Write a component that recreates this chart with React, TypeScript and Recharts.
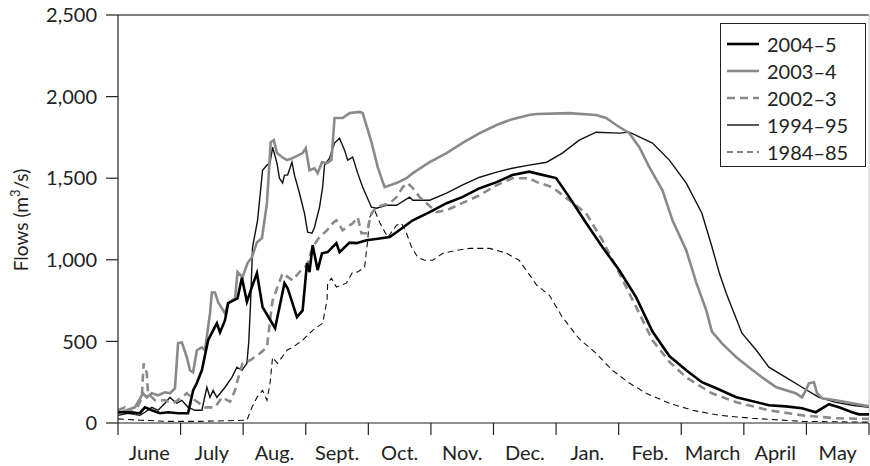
import React from "react";
import {
  LineChart,
  Line,
  XAxis,
  YAxis,
  ReferenceLine,
} from "recharts";

// x = months since 1 June (0..12), y = flow in m3/s
const MONTHS = ["June", "July", "Aug.", "Sept.", "Oct.", "Nov.", "Dec.", "Jan.", "Feb.", "March", "April", "May"];
const MONTH_TICKS = [0, 1, 2, 3, 4, 5, 6, 7, 8, 9, 10, 11, 12];
const FLOW_TICKS = [0, 500, 1000, 1500, 2000, 2500];

const flows2004_5 = [
  [0, 66], [0.16, 66], [0.35, 60], [0.43, 96], [0.54, 78], [0.67, 60], [0.8, 66], [0.96, 60],
  [1.12, 60], [1.2, 200], [1.26, 245], [1.34, 323], [1.44, 507], [1.52, 568], [1.58, 611], [1.63, 555],
  [1.71, 630], [1.76, 734], [1.91, 764], [1.98, 890], [2.06, 743], [2.15, 845], [2.22, 918], [2.31, 710],
  [2.51, 581], [2.66, 857], [2.71, 826], [2.86, 649], [2.95, 690], [3.02, 980], [3.06, 925], [3.11, 1090],
  [3.19, 937], [3.26, 1040], [3.35, 1047], [3.49, 1102], [3.54, 1047], [3.7, 1105], [3.81, 1102], [3.97, 1120],
  [4.18, 1130], [4.34, 1140], [4.45, 1169], [4.71, 1242], [4.98, 1292], [5.25, 1347], [5.5, 1384], [5.78, 1439],
  [6.05, 1476], [6.3, 1519], [6.57, 1540], [6.73, 1525], [7.0, 1501], [7.21, 1384], [7.48, 1225], [7.74, 1078],
  [8.01, 936], [8.28, 770], [8.54, 560], [8.81, 410], [9.08, 323], [9.33, 250], [9.56, 213], [9.88, 158],
  [10.4, 109], [10.67, 102], [10.93, 90], [11.15, 66], [11.36, 115], [11.52, 96], [11.73, 66], [11.84, 53], [12, 53],
];

const flows2003_4 = [
  [0, 60], [0.27, 96], [0.4, 182], [0.46, 157], [0.54, 182], [0.64, 170], [0.75, 188], [0.83, 182],
  [0.91, 212], [0.96, 490], [1.02, 494], [1.1, 403], [1.15, 323], [1.2, 311], [1.26, 446], [1.34, 464],
  [1.39, 446], [1.47, 672], [1.5, 800], [1.55, 800], [1.6, 740], [1.71, 672], [1.76, 734], [1.87, 764],
  [1.91, 925], [1.99, 893], [2.07, 980], [2.14, 1015], [2.22, 1108], [2.3, 1132], [2.38, 1347], [2.44, 1721],
  [2.49, 1733], [2.54, 1654], [2.62, 1630], [2.7, 1611], [2.79, 1623], [2.95, 1654], [3.0, 1684], [3.06, 1549],
  [3.14, 1561], [3.19, 1531], [3.26, 1598], [3.34, 1592], [3.41, 1611], [3.46, 1869], [3.59, 1869], [3.7, 1899],
  [3.86, 1906], [3.91, 1899], [4.05, 1721], [4.15, 1568], [4.26, 1445], [4.45, 1470], [4.61, 1500], [4.71, 1531],
  [4.98, 1598], [5.25, 1654], [5.5, 1715], [5.78, 1776], [6.05, 1826], [6.3, 1862], [6.57, 1887], [6.69, 1893],
  [7.21, 1899], [7.64, 1887], [7.8, 1869], [7.96, 1826], [8.17, 1776], [8.33, 1690], [8.49, 1568], [8.7, 1426],
  [8.86, 1242], [9.08, 1058], [9.24, 860], [9.4, 690], [9.49, 560], [9.61, 506], [9.65, 488], [9.88, 403],
  [10.08, 342], [10.29, 280], [10.52, 219], [10.83, 182], [10.93, 157], [10.99, 200], [11.04, 243], [11.12, 250],
  [11.17, 182], [11.25, 152], [11.47, 139], [11.73, 121], [12, 102],
];

const flows2002_3 = [
  [0, 78], [0.11, 96], [0.27, 60], [0.38, 157], [0.41, 366], [0.46, 305], [0.48, 182], [0.59, 139],
  [0.75, 139], [0.88, 121], [1.02, 157], [1.1, 182], [1.23, 139], [1.39, 96], [1.55, 96], [1.66, 157],
  [1.79, 130], [1.87, 200], [1.91, 261], [1.99, 366], [2.11, 384], [2.27, 427], [2.38, 464], [2.43, 630],
  [2.47, 751], [2.63, 917], [2.79, 874], [2.9, 925], [3.02, 967], [3.11, 1078], [3.22, 1140], [3.34, 1181],
  [3.43, 1224], [3.49, 1242], [3.59, 1181], [3.75, 1224], [3.83, 1261], [3.89, 1163], [3.97, 1163], [4.05, 1285],
  [4.13, 1322], [4.23, 1334], [4.34, 1347], [4.45, 1384], [4.55, 1445], [4.63, 1470], [4.71, 1439], [4.82, 1384],
  [4.93, 1347], [5.09, 1292], [5.25, 1304], [5.5, 1347], [5.78, 1396], [6.05, 1457], [6.3, 1500], [6.57, 1500],
  [6.69, 1476], [6.94, 1445], [7.21, 1365], [7.48, 1285], [7.74, 1120], [8.01, 917], [8.28, 710], [8.54, 507],
  [8.81, 375], [9.08, 280], [9.33, 219], [9.49, 182], [9.88, 127], [10.4, 78], [10.93, 47], [11.47, 29], [12, 25],
];

const flows1994_95 = [
  [0, 47], [0.16, 60], [0.35, 47], [0.43, 66], [0.54, 96], [0.64, 78], [0.75, 121], [0.83, 157],
  [0.88, 139], [0.94, 121], [1.02, 139], [1.12, 96], [1.23, 78], [1.34, 78], [1.42, 219], [1.47, 157],
  [1.52, 200], [1.58, 157], [1.71, 219], [1.82, 280], [1.9, 342], [1.98, 323], [2.06, 366], [2.09, 500],
  [2.12, 750], [2.15, 1078], [2.23, 1242], [2.31, 1549], [2.38, 1580], [2.43, 1592], [2.47, 1690], [2.54, 1592],
  [2.58, 1500], [2.63, 1470], [2.66, 1519], [2.71, 1519], [2.78, 1598], [2.82, 1519], [2.9, 1408], [2.98, 1285],
  [3.03, 1169], [3.1, 1163], [3.14, 1200], [3.22, 1322], [3.27, 1445], [3.3, 1580], [3.38, 1623], [3.46, 1715],
  [3.54, 1745], [3.62, 1672], [3.67, 1611], [3.75, 1629], [3.83, 1531], [3.91, 1445], [4.05, 1322], [4.13, 1316],
  [4.29, 1334], [4.45, 1334], [4.66, 1384], [4.71, 1365], [4.98, 1365], [5.25, 1408], [5.5, 1457], [5.78, 1506],
  [6.05, 1537], [6.3, 1561], [6.57, 1580], [6.85, 1598], [7.1, 1654], [7.37, 1733], [7.64, 1782], [8.01, 1776],
  [8.17, 1782], [8.54, 1715], [8.81, 1611], [9.08, 1470], [9.33, 1285], [9.49, 1080], [9.61, 917], [9.72, 794],
  [9.97, 550], [10.2, 446], [10.4, 342], [10.67, 280], [10.93, 219], [11.2, 157], [11.47, 126], [11.73, 109], [12, 96],
];

const flows1984_85 = [
  [0, 25], [0.35, 17], [0.78, 10], [1.31, 10], [2.06, 17], [2.14, 96], [2.22, 157], [2.31, 200],
  [2.38, 139], [2.43, 245], [2.47, 403], [2.55, 366], [2.7, 446], [2.79, 464], [2.95, 507], [3.11, 568],
  [3.27, 611], [3.34, 751], [3.35, 857], [3.41, 887], [3.49, 833], [3.65, 857], [3.75, 925], [3.83, 925],
  [3.94, 955], [3.99, 1120], [4.02, 1261], [4.1, 1304], [4.18, 1230], [4.31, 1138], [4.45, 1212], [4.53, 1224],
  [4.61, 1163], [4.69, 1078], [4.79, 1015], [4.9, 997], [5.03, 997], [5.19, 1040], [5.41, 1058], [5.62, 1070],
  [5.94, 1070], [6.21, 1040], [6.41, 997], [6.69, 845], [6.89, 784], [7.1, 649], [7.37, 515], [7.64, 427],
  [7.9, 323], [8.17, 245], [8.44, 182], [8.81, 121], [9.18, 78], [9.61, 47], [10.13, 29], [10.93, 10], [12, 5],
];

const toRows = (pairs: number[][]) => pairs.map(([m, v]) => ({ m, v }));

const SERIES = [
  { name: "2004\u20135", data: toRows(flows2004_5), color: "#000", width: 2.6, dash: undefined },
  { name: "2003\u20134", data: toRows(flows2003_4), color: "#8a8a8a", width: 2.6, dash: undefined },
  { name: "2002\u20133", data: toRows(flows2002_3), color: "#8a8a8a", width: 2.6, dash: "8 5" },
  { name: "1994\u201395", data: toRows(flows1994_95), color: "#111", width: 1.4, dash: undefined },
  { name: "1984\u201385", data: toRows(flows1984_85), color: "#111", width: 1.1, dash: "6 4" },
];

const W = 870;
const H = 466;
const LEFT = 118;
const FONT = "Lato, 'Open Sans', sans-serif";
const textColor = "#222";

function MonthTick(props: any) {
  const { x, y, payload } = props;
  if (payload.value >= 12) return null;
  const half = (W - LEFT) / 24;
  return (
    <text x={x + half} y={y} dy={19} textAnchor="middle" fontSize={20} fill={textColor} fontFamily={FONT}>
      {MONTHS[payload.value]}
    </text>
  );
}

function Legend() {
  return (
    <div
      style={{
        position: "absolute",
        left: 720,
        top: 23,
        width: 146,
        height: 144,
        border: "1px solid #222",
        background: "#fff",
        fontFamily: FONT,
        fontSize: 20,
        color: textColor,
        paddingTop: 6,
        boxSizing: "border-box",
      }}
    >
      {SERIES.map((s) => (
        <div key={s.name} style={{ display: "flex", alignItems: "center", height: 27 }}>
          <svg width={46} height={10}>
            <line
              x1={6}
              x2={38}
              y1={5}
              y2={5}
              stroke={s.color}
              strokeWidth={s.width}
              strokeDasharray={s.dash}
            />
          </svg>
          <span>{s.name}</span>
        </div>
      ))}
    </div>
  );
}

export default function App() {
  return (
    <div style={{ position: "absolute", left: 0, top: 0, width: W, height: H, background: "#fff" }}>
      <LineChart width={W} height={H} margin={{ top: 15, right: 1, bottom: 0, left: 0 }}>
        <XAxis
          dataKey="m"
          type="number"
          domain={[0, 12]}
          ticks={MONTH_TICKS}
          height={43}
          tickSize={12}
          tickMargin={6}
          tick={<MonthTick />}
          axisLine={{ stroke: "#222", strokeWidth: 1.2 }}
          tickLine={{ stroke: "#222", strokeWidth: 1.2 }}
          allowDuplicatedCategory={false}
        />
        <YAxis
          type="number"
          domain={[0, 2500]}
          ticks={FLOW_TICKS}
          width={LEFT}
          tickSize={12}
          tickMargin={9}
          tickFormatter={(v: number) => v.toLocaleString("en-US")}
          tick={{ fill: textColor, fontSize: 20, fontFamily: FONT }}
          axisLine={{ stroke: "#222", strokeWidth: 1.2 }}
          tickLine={{ stroke: "#222", strokeWidth: 1.2 }}
          label={() => (
            <text
              transform={`translate(28, 220) rotate(-90)`}
              textAnchor="middle"
              fontSize={19}
              fill={textColor}
              fontFamily={FONT}
            >
              Flows (m<tspan dy={-8} fontSize={13}>3</tspan>
              <tspan dy={8}>/s)</tspan>
            </text>
          )}
        />
        <ReferenceLine y={2500} stroke="#555" strokeWidth={1.5} />
        <ReferenceLine x={12} stroke="#c8c8c8" strokeWidth={1} />
        {SERIES.slice()
          .reverse()
          .map((s) => (
            <Line
              key={s.name}
              data={s.data}
              dataKey="v"
              name={s.name}
              type="linear"
              stroke={s.color}
              strokeWidth={s.width}
              strokeDasharray={s.dash}
              dot={false}
              activeDot={false}
              isAnimationActive={false}
            />
          ))}
      </LineChart>
      <Legend />
    </div>
  );
}
